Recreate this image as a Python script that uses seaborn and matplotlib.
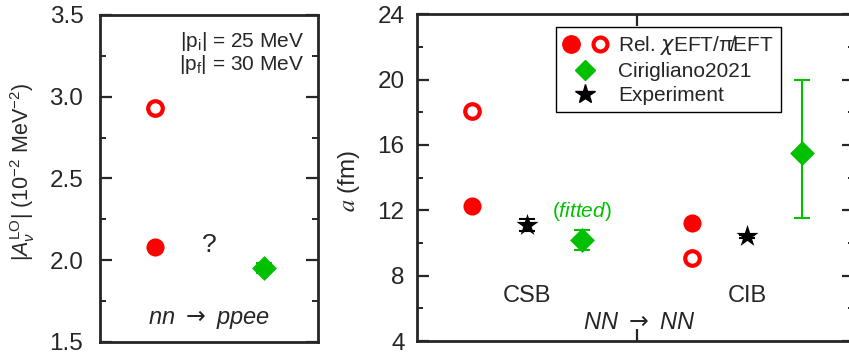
import matplotlib
matplotlib.use("Agg")
import matplotlib.pyplot as plt
import seaborn as sns
import pandas as pd
from matplotlib.lines import Line2D
from matplotlib.legend_handler import HandlerTuple
from matplotlib.ticker import MultipleLocator

# Left panel: |A_nu^LO| for nn -> ppee (10^-2 MeV^-2)
left_rel_filled = [2.08]
left_rel_open = [2.93]
left_cir = [1.95]
left_cir_err = [0.03]

# Right panel: scattering length a (fm), CSB group then CIB group
rel_filled_a = [12.25, 11.2]
rel_open_a = [18.1, 9.1]
exp_a = [11.1, 10.4]
exp_err = [0.35, 0.1]
cir_a = [10.2, 15.5]
cir_err_low = [0.6, 4.0]
cir_err_high = [0.6, 4.5]
groups = ["CSB", "CIB"]

RED = "#ff0000"
GREEN = "#00c000"

sns.set_style("ticks")
plt.rcParams["font.family"] = ["Liberation Sans", "DejaVu Sans"]
plt.rcParams["mathtext.fontset"] = "custom"
plt.rcParams["mathtext.rm"] = "Liberation Sans"
plt.rcParams["mathtext.it"] = "Liberation Sans:italic"
plt.rcParams["mathtext.bf"] = "Liberation Sans:bold"

fig = plt.figure(figsize=(8.49, 3.56), dpi=100)
ax1 = fig.add_axes([0.1178, 0.040, 0.2568, 0.918])
ax2 = fig.add_axes([0.4912, 0.042, 0.5147, 0.918])

# x slots: left panel 1,2,3 ; right panel CSB at 1,2,3 and CIB at 5,6,7
df_left = pd.DataFrame({"x": [1, 1, 3],
                        "y": left_rel_filled + left_rel_open + left_cir,
                        "kind": ["filled", "open", "cir"]})
df_right = pd.DataFrame({"x": [1, 5, 1, 5, 2, 6, 3, 7],
                         "y": rel_filled_a + rel_open_a + exp_a + cir_a,
                         "kind": ["filled"] * 2 + ["open"] * 2 + ["exp"] * 2 + ["cir"] * 2})


def draw(ax, df):
    d = df[df.kind == "filled"]
    sns.scatterplot(data=d, x="x", y="y", ax=ax, marker="o", s=170, color=RED,
                    edgecolor=RED, linewidth=0, zorder=3)
    d = df[df.kind == "open"]
    sns.scatterplot(data=d, x="x", y="y", ax=ax, marker="o", s=110, facecolor="white",
                    edgecolor=RED, linewidth=3.0, zorder=3)
    d = df[df.kind == "exp"]
    if len(d):
        sns.scatterplot(data=d, x="x", y="y", ax=ax, marker="*", s=280, color="black",
                        edgecolor="black", linewidth=0, zorder=4)
    d = df[df.kind == "cir"]
    sns.scatterplot(data=d, x="x", y="y", ax=ax, marker="D", s=160, color=GREEN,
                    edgecolor=GREEN, linewidth=0, zorder=3)


draw(ax1, df_left)
ax1.errorbar([3], left_cir, yerr=left_cir_err, fmt="none", ecolor=GREEN,
             elinewidth=1.5, capsize=6, capthick=1.5, zorder=2)

draw(ax2, df_right)
ax2.errorbar([3, 7], cir_a, yerr=[cir_err_low, cir_err_high], fmt="none",
             ecolor=GREEN, elinewidth=1.5, capsize=6, capthick=1.5, zorder=2)
ax2.errorbar([2, 6], exp_a, yerr=exp_err, fmt="none", ecolor="black",
             elinewidth=1.5, capsize=6, capthick=1.5, zorder=2)

for ax in (ax1, ax2):
    for sp in ax.spines.values():
        sp.set_linewidth(2.0)
        sp.set_visible(True)
    ax.tick_params(axis="both", which="major", direction="in", length=8.5, width=1.6,
                   labelsize=17.5, left=True, right=True, top=True, bottom=True)
    ax.tick_params(axis="both", which="minor", direction="in", length=4.5, width=1.4,
                   left=True, right=True)
    ax.set_xlabel("")

ax1.set_xlim(0, 4)
ax1.set_ylim(1.5, 3.5)
ax1.set_xticks([])
ax1.yaxis.set_major_locator(MultipleLocator(0.5))
ax1.yaxis.set_minor_locator(MultipleLocator(0.25))
ax1.set_yticks([1.5, 2.0, 2.5, 3.0, 3.5], ["1.5", "2.0", "2.5", "3.0", "3.5"])
ax1.tick_params(axis="y", pad=12)
ax1.set_ylabel(r"$|A_{\nu}^{\rm LO}|$ (10$^{-2}$ MeV$^{-2}$)", fontsize=15.5)
ax1.yaxis.set_label_coords(-0.29, 0.52)

ax1.text(2.6, 3.335, r"|p$_{\rm i}$| = 25 MeV", fontsize=15, ha="center", va="center")
ax1.text(2.6, 3.194, r"|p$_{\rm f}$| = 30 MeV", fontsize=15, ha="center", va="center")
ax1.text(2.0, 2.093, "?", fontsize=19, ha="center", va="center")
ax1.text(2.0, 1.635, r"nn $\rightarrow$ ppee", fontsize=17, style="italic",
         math_fontfamily="dejavusans", ha="center", va="center")

ax2.set_xlim(0, 7.95)
ax2.set_ylim(4, 24)
ax2.set_xticks([4], [""])
ax2.yaxis.set_major_locator(MultipleLocator(4))
ax2.yaxis.set_minor_locator(MultipleLocator(2))
ax2.tick_params(axis="y", pad=9)
ax2.set_ylabel("$a$ (fm)", fontsize=17.5, math_fontfamily="stix")
ax2.yaxis.set_label_coords(-0.127, 0.49)

ax2.text(2.0, 6.75, groups[0], fontsize=17, ha="center", va="center")
ax2.text(6.0, 6.75, groups[1], fontsize=17, ha="center", va="center")
ax2.text(4.05, 5.16, r"NN $\rightarrow$ NN", fontsize=17, style="italic",
         math_fontfamily="dejavusans", ha="center", va="center")
ax2.text(3.0, 11.95, r"($\mathit{fitted}$)", fontsize=15, color=GREEN, ha="center", va="center")

h_filled = Line2D([], [], ls="none", marker="o", ms=12.5, color=RED, mec=RED)
h_open = Line2D([], [], ls="none", marker="o", ms=10, mfc="white", mec=RED, mew=3.0)
h_cir = Line2D([], [], ls="none", marker="D", ms=10.5, color=GREEN, mec=GREEN)
h_exp = Line2D([], [], ls="none", marker="*", ms=15, color="black")
leg = ax2.legend([(h_filled, h_open), h_cir, h_exp],
                 ["Rel. $\\chi$EFT/\u03c0\u0338EFT", "Cirigliano2021", "Experiment"],
                 handler_map={tuple: HandlerTuple(ndivide=None, pad=0.6)},
                 loc="upper left", bbox_to_anchor=(0.318, 0.962), borderaxespad=0,
                 fontsize=15, frameon=True, fancybox=False, edgecolor="black",
                 framealpha=1, handlelength=2.2, handletextpad=0.5, labelspacing=0.25,
                 borderpad=0.3)
leg.get_frame().set_linewidth(1.0)
leg.get_texts()[0].set_math_fontfamily("dejavusans")

fig.savefig("out.png", dpi=100)
